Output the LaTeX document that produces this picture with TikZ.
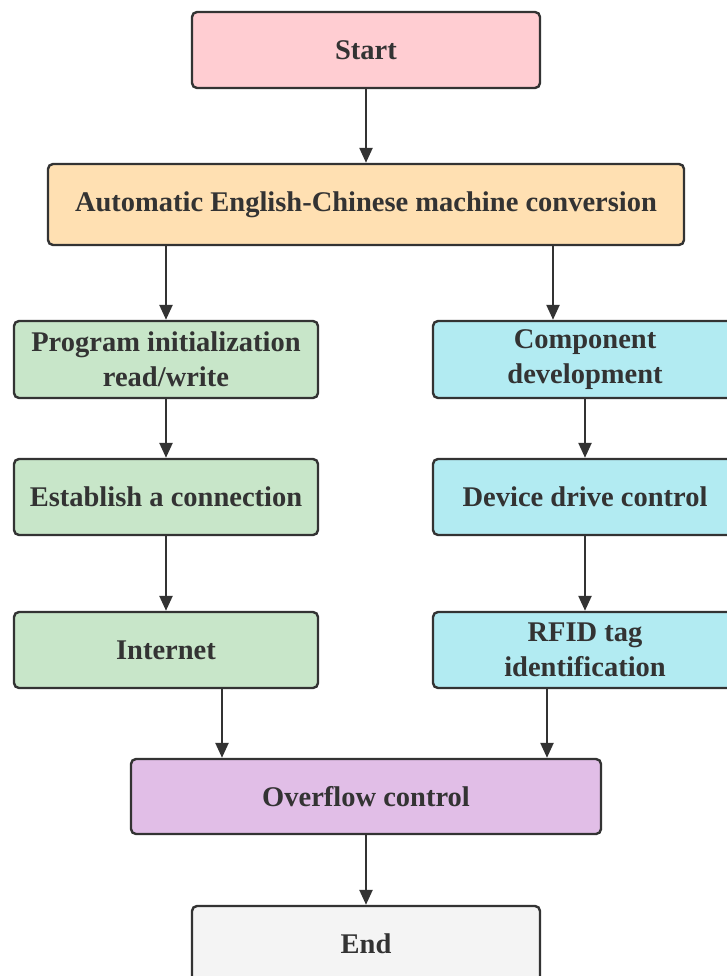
\documentclass[tikz,border=0pt]{standalone}
\usepackage{fontspec}
\setmainfont{Liberation Serif}
\usetikzlibrary{arrows.meta,calc}
\definecolor{txt}{HTML}{333333}
\definecolor{cpink}{HTML}{FFCDD2}
\definecolor{cpeach}{HTML}{FFE0B2}
\definecolor{cgreen}{HTML}{C8E6C9}
\definecolor{ccyan}{HTML}{B2EBF2}
\definecolor{cpurple}{HTML}{E1BEE7}
\definecolor{cgray}{HTML}{F4F4F4}
\tikzset{
  box/.style={draw=txt, line width=2.4pt, rounded corners=5pt, text=txt,
    font=\fontsize{28.5}{35}\selectfont\bfseries, align=center, inner sep=0pt,
    minimum width=304pt, minimum height=77pt},
  arr/.style={draw=txt, line width=2.4pt, -{Triangle[length=15pt,width=13pt]}}
}
\begin{document}
\begin{tikzpicture}[x=1pt,y=-1pt]
\useasboundingbox (0,0) rectangle (727,976);
\node[box, fill=cpink, minimum width=348pt, minimum height=76pt] (start) at (366,50) {Start};
\node[box, fill=cpeach, minimum width=636pt, minimum height=81pt] (auto) at (366,204.5) {Automatic English-Chinese machine conversion};
\node[box, fill=cgreen] (prog) at (166,359.5) {Program initialization\\read/write};
\node[box, fill=ccyan] (comp) at (585,359.5) {Component\\development};
\node[box, fill=cgreen, minimum height=76pt] (estab) at (166,497) {Establish a connection};
\node[box, fill=ccyan, minimum height=76pt] (dev) at (585,497) {Device drive control};
\node[box, fill=cgreen, minimum height=76pt] (inet) at (166,650) {Internet};
\node[box, fill=ccyan, minimum height=76pt] (rfid) at (585,650) {RFID tag\\identification};
\node[box, fill=cpurple, minimum width=470pt, minimum height=75pt] (over) at (366,796.5) {Overflow control};
\node[box, fill=cgray, minimum width=348pt, minimum height=76pt] (end) at (366,944) {End};
\draw[arr] (start) -- (auto);
\draw[arr] (auto.south -| prog) -- (prog);
\draw[arr] ($(auto.south -| comp)+(-32,0)$) -- ($(comp.north)+(-32,0)$);
\draw[arr] (prog) -- (estab);
\draw[arr] (comp) -- (dev);
\draw[arr] (estab) -- (inet);
\draw[arr] (dev) -- (rfid);
\draw[arr] ($(inet.south)+(56,0)$) -- ($(over.north -| inet)+(56,0)$);
\draw[arr] ($(rfid.south)+(-38,0)$) -- ($(over.north -| rfid)+(-38,0)$);
\draw[arr] (over) -- (end);
\end{tikzpicture}
\end{document}
